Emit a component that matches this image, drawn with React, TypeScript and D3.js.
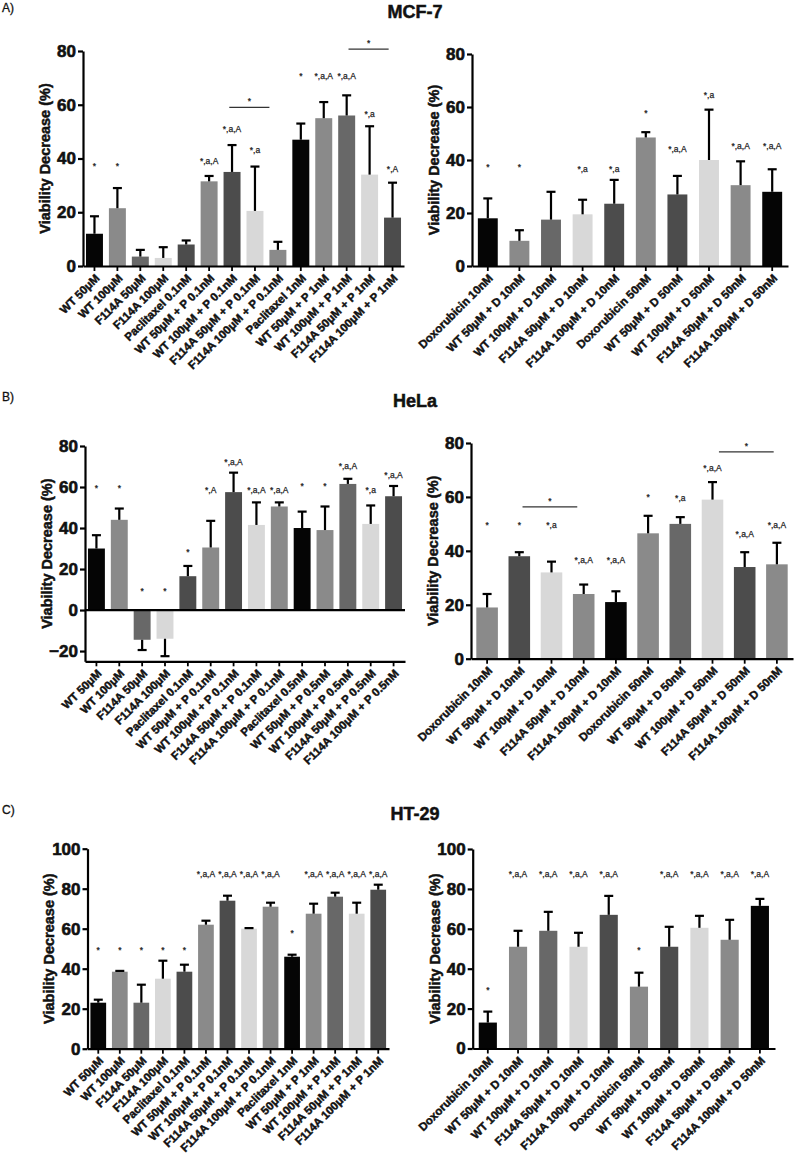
import { useRef, useEffect, useMemo } from 'react';
import * as d3 from 'd3';

const FONT = '"Liberation Sans", Arial, sans-serif';

// ---------- categories ----------
const pacCats1nM = [
  'WT 50μM', 'WT 100μM', 'F114A 50μM', 'F114A 100μM', 'Paclitaxel 0.1nM',
  'WT 50μM + P 0.1nM', 'WT 100μM + P 0.1nM', 'F114A 50μM + P 0.1nM', 'F114A 100μM + P 0.1nM',
  'Paclitaxel 1nM', 'WT 50μM + P 1nM', 'WT 100μM + P 1nM', 'F114A 50μM + P 1nM', 'F114A 100μM + P 1nM',
];
const pacCats05nM = [
  'WT 50μM', 'WT 100μM', 'F114A 50μM', 'F114A 100μM', 'Paclitaxel 0.1nM',
  'WT 50μM + P 0.1nM', 'WT 100μM + P 0.1nM', 'F114A 50μM + P 0.1nM', 'F114A 100μM + P 0.1nM',
  'Paclitaxel 0.5nM', 'WT 50μM + P 0.5nM', 'WT 100μM + P 0.5nM', 'F114A 50μM + P 0.5nM', 'F114A 100μM + P 0.5nM',
];
const doxCats = [
  'Doxorubicin 10nM', 'WT 50μM + D 10nM', 'WT 100μM + D 10nM', 'F114A 50μM + D 10nM', 'F114A 100μM + D 10nM',
  'Doxorubicin 50nM', 'WT 50μM + D 50nM', 'WT 100μM + D 50nM', 'F114A 50μM + D 50nM', 'F114A 100μM + D 50nM',
];

// ---------- MCF-7 ----------
const mcfPacMean = [12, 21.5, 3.5, 3, 8, 31.5, 35, 20.5, 6, 47, 55, 56, 34, 18];
const mcfPacErr = [6.5, 7.5, 2.5, 4, 1.5, 2, 10, 16.5, 3, 6, 6, 7.5, 18, 13];
const mcfPacSig = ['*', '*', '', '', '', '*,a,A', '*,a,A', '*,a', '', '*', '*,a,A', '*,a,A', '*,a', '*,A'];
const mcfPacSigAt = [36, 36, 0, 0, 0, 38, 50, 42, 0, 69.5, 69.5, 69.5, 55.3, 35];
const mcfPacBrackets: [number, number, number][] = [[5.88, 7.63, 59], [11.08, 12.83, 80.7]];

const mcfDoxMean = [18, 9.5, 17.5, 19.5, 23.5, 48.5, 27, 40, 30.5, 28];
const mcfDoxErr = [7.5, 4, 10.5, 5.5, 9, 2, 7, 19, 9, 8.5];
const mcfDoxSig = ['*', '*', '', '*,a', '*,a', '*', '*,a,A', '*,a', '*,a,A', '*,a,A'];
const mcfDoxSigAt = [36.4, 36.4, 0, 35.6, 35.6, 56.6, 43.1, 63.3, 44, 44];

// ---------- HeLa ----------
const helaPacMean = [30, 44, -14.5, -14, 16.5, 30.5, 57.5, 41.5, 50.5, 40, 39, 61.5, 42, 55.5];
const helaPacErr = [6.5, 5.5, 5, 8.5, 5, 13, 9.5, 11, 2, 8, 11.5, 2.5, 9, 5];
const helaPacSig = ['*', '*', '*', '*', '*', '*,A', '*,a,A', '*,a,A', '*,a,A', '*', '*', '*,a,A', '*,a', '*,a,A'];
const helaPacSigAt = [58, 58, 8, 8, 27, 57, 70.7, 57, 57, 59, 59, 68.6, 57, 64.2];

const helaDoxMean = [19, 38, 32, 24, 21, 46.5, 50, 59, 34, 35];
const helaDoxErr = [5, 1.5, 4, 3.5, 4, 6.5, 2.5, 6.5, 5.5, 8];
const helaDoxSig = ['*', '*', '*,a', '*,a,A', '*,a,A', '*', '*,a', '*,a,A', '*,a,A', '*,a,A'];
const helaDoxSigAt = [48.5, 48.5, 48.4, 35.4, 35.4, 59, 58.6, 69.7, 45, 48.4];
const helaDoxBrackets: [number, number, number][] = [[1.1, 2.8, 56.3], [7.2, 8.9, 76.7]];

// ---------- HT-29 ----------
const htPacMean = [23, 38.5, 23, 35, 38.5, 62, 74, 60, 71, 46, 67.5, 76, 67.5, 79.5];
const htPacErr = [1.5, 0.4, 9, 9, 3.5, 2, 2.5, 0.3, 2, 1, 5, 2, 5.5, 2.5];
const htPacSig = ['*', '*', '*', '*', '*', '*,a,A', '*,a,A', '*,a,A', '*,a,A', '*', '*,a,A', '*,a,A', '*,a,A', '*,a,A'];
const htPacSigAt = [47.9, 47.9, 47.9, 47.9, 47.9, 86, 86, 86, 86, 56.6, 86, 86, 86, 86];

const htDoxMean = [13, 51, 59, 51, 67, 31, 51, 60.5, 54.5, 71.5];
const htDoxErr = [5.5, 8, 9.5, 7, 9.5, 7, 10, 6, 10, 3.5];
const htDoxSig = ['*', '*,a,A', '*,a,A', '*,a,A', '*,a,A', '*', '*,a,A', '*,a,A', '*,a,A', '*,a,A'];
const htDoxSigAt = [27.6, 86, 86, 86, 86, 47.9, 86, 86, 86, 86];

// ---------- styles ----------
const shade: Record<string, string> = {
  K: '#050505',
  G: '#8a8a8a',
  M: '#686868',
  L: '#d8d8d8',
  D: '#4c4c4c',
};
const pacShades = 'KGMLDGDLGKGMLD'.split('').map((k) => shade[k]);
const doxShadesA = 'KGMLDGDLGK'.split('').map((k) => shade[k]);
const doxShadesB = 'GDLGKGMLDG'.split('').map((k) => shade[k]);

type PanelProps = {
  cats: string[];
  means: number[];
  errs: number[];
  colors: string[];
  sig: string[];
  sigAt: number[];
  brackets?: [number, number, number][];
  x0: number;
  x1: number;
  yTop: number;
  yBottom: number;
  domain: [number, number];
  ticks: number[];
  pad: number;
};

const Panel: React.FC<PanelProps> = (p) => {
  const gx = useRef<SVGGElement>(null);
  const gy = useRef<SVGGElement>(null);

  const x = useMemo(
    () => d3.scaleBand().domain(p.cats).range([p.x0, p.x1]).paddingInner(p.pad).paddingOuter(p.pad / 2),
    [p.cats, p.x0, p.x1, p.pad],
  );
  const y = useMemo(
    () => d3.scaleLinear().domain(p.domain).range([p.yBottom, p.yTop]),
    [p.domain, p.yBottom, p.yTop],
  );
  const baseY = y(p.domain[0]);
  const bw = x.bandwidth();
  const centerAt = (i: number) => (x(p.cats[0]) ?? 0) + bw / 2 + i * x.step();

  useEffect(() => {
    const el = gy.current;
    if (!el) return;
    const g = d3.select(el);
    g.call(d3.axisLeft(y).tickValues(p.ticks).tickSize(5).tickSizeOuter(0).tickPadding(2));
    g.select('.domain').attr('stroke-width', 2.2);
    g.selectAll('.tick line').attr('stroke-width', 2.2);
    g.selectAll('.tick text')
      .attr('font-family', FONT)
      .attr('font-weight', 'bold')
      .attr('font-size', 17)
      .attr('fill', '#111')
      .attr('stroke', '#111')
      .attr('stroke-width', 0.6);
    return () => {
      g.selectAll('*').remove();
    };
  }, [y, p.ticks]);

  useEffect(() => {
    const el = gx.current;
    if (!el) return;
    const g = d3.select(el);
    g.call(d3.axisBottom(x).tickSize(5).tickSizeOuter(0));
    g.select('.domain').attr('stroke-width', 2.2);
    g.selectAll('.tick line').attr('stroke-width', 1.8);
    g.selectAll('.tick text')
      .attr('font-family', FONT)
      .attr('font-weight', 'bold')
      .attr('font-size', 11.5)
      .attr('fill', '#111')
      .attr('stroke', '#111')
      .attr('stroke-width', 0.45)
      .attr('y', 0)
      .attr('dy', '0.35em')
      .attr('text-anchor', 'end')
      .attr('transform', 'translate(3,10) rotate(-45)');
    return () => {
      g.selectAll('*').remove();
    };
  }, [x]);

  const axisX = p.x0;
  const midY = (p.yTop + p.yBottom) / 2;

  return (
    <g>
      {p.cats.map((c, i) => {
        const v = p.means[i];
        const y0 = y(0);
        const yv = y(v);
        return (
          <rect
            key={c}
            x={x(c)}
            y={Math.min(y0, yv)}
            width={bw}
            height={Math.abs(yv - y0)}
            fill={p.colors[i]}
          />
        );
      })}
      {p.cats.map((c, i) => {
        const v = p.means[i];
        const end = v >= 0 ? v + p.errs[i] : v - p.errs[i];
        const cx = (x(c) ?? 0) + bw / 2;
        return (
          <g key={c} stroke="#000" strokeWidth={2.2}>
            <line x1={cx} x2={cx} y1={y(v)} y2={y(end)} />
            <line x1={cx - 4.5} x2={cx + 4.5} y1={y(end)} y2={y(end)} />
          </g>
        );
      })}
      {p.cats.map((c, i) =>
        p.sig[i] ? (
          <text
            key={c}
            x={(x(c) ?? 0) + bw / 2}
            y={y(p.sigAt[i])}
            textAnchor="middle"
            fontFamily={FONT}
            fontSize={8.5}
            fill="#222"
            stroke="#222"
            strokeWidth={0.25}
          >
            {p.sig[i]}
          </text>
        ) : null,
      )}
      {(p.brackets ?? []).map(([a, b, v], i) => (
        <g key={i}>
          <line x1={centerAt(a)} x2={centerAt(b)} y1={y(v)} y2={y(v)} stroke="#333" strokeWidth={1.2} />
          <text
            x={(centerAt(a) + centerAt(b)) / 2}
            y={y(v) - 3}
            textAnchor="middle"
            fontFamily={FONT}
            fontSize={8.5}
            fill="#222"
            stroke="#222"
            strokeWidth={0.25}
          >
            *
          </text>
        </g>
      ))}
      {p.domain[0] < 0 && (
        <line x1={p.x0} x2={p.x1} y1={y(0)} y2={y(0)} stroke="#000" strokeWidth={2.2} />
      )}
      <g ref={gy} transform={`translate(${axisX},0)`} />
      <g ref={gx} transform={`translate(0,${baseY})`} />
      <text
        transform={`translate(${axisX - 37},${midY}) rotate(-90)`}
        textAnchor="middle"
        dominantBaseline="middle"
        fontFamily={FONT}
        fontWeight="bold"
        fontSize={14.5}
        fill="#111"
        stroke="#111"
        strokeWidth={0.5}
      >
        Viability Decrease (%)
      </text>
    </g>
  );
};

const Heading: React.FC<{ letter: string; title: string; y: number }> = ({ letter, title, y }) => (
  <g fontFamily={FONT}>
    <text x={2} y={y - 6} fontSize={12} fill="#111" stroke="#111" strokeWidth={0.3}>
      {letter}
    </text>
    <text x={415} y={y} textAnchor="middle" fontSize={18} fontWeight="bold" fill="#111" stroke="#111" strokeWidth={0.5}>
      {title}
    </text>
  </g>
);

export default function App() {
  return (
    <svg
      width={800}
      height={1153}
      style={{ position: 'absolute', left: 0, top: 0, background: '#fff' }}
    >
      <rect width={800} height={1153} fill="#fff" />
      <Heading letter="A)" title="MCF-7" y={18} />
      <Panel
        cats={pacCats1nM}
        means={mcfPacMean}
        errs={mcfPacErr}
        colors={pacShades}
        sig={mcfPacSig}
        sigAt={mcfPacSigAt}
        brackets={mcfPacBrackets}
        x0={83}
        x1={404}
        yTop={51}
        yBottom={266}
        domain={[0, 80]}
        ticks={[0, 20, 40, 60, 80]}
        pad={0.26}
      />
      <Panel
        cats={doxCats}
        means={mcfDoxMean}
        errs={mcfDoxErr}
        colors={doxShadesA}
        sig={mcfDoxSig}
        sigAt={mcfDoxSigAt}
        x0={472}
        x1={788}
        yTop={54}
        yBottom={266}
        domain={[0, 80]}
        ticks={[0, 20, 40, 60, 80]}
        pad={0.37}
      />

      <Heading letter="B)" title="HeLa" y={407} />
      <Panel
        cats={pacCats05nM}
        means={helaPacMean}
        errs={helaPacErr}
        colors={pacShades}
        sig={helaPacSig}
        sigAt={helaPacSigAt}
        x0={85}
        x1={405}
        yTop={446}
        yBottom={661.3}
        domain={[-25, 80]}
        ticks={[-20, 0, 20, 40, 60, 80]}
        pad={0.26}
      />
      <Panel
        cats={doxCats}
        means={helaDoxMean}
        errs={helaDoxErr}
        colors={doxShadesB}
        sig={helaDoxSig}
        sigAt={helaDoxSigAt}
        brackets={helaDoxBrackets}
        x0={471}
        x1={793}
        yTop={443}
        yBottom={658.7}
        domain={[0, 80]}
        ticks={[0, 20, 40, 60, 80]}
        pad={0.33}
      />

      <Heading letter="C)" title="HT-29" y={820} />
      <Panel
        cats={pacCats1nM}
        means={htPacMean}
        errs={htPacErr}
        colors={pacShades}
        sig={htPacSig}
        sigAt={htPacSigAt}
        x0={87.5}
        x1={389}
        yTop={848.7}
        yBottom={1048.7}
        domain={[0, 100]}
        ticks={[0, 20, 40, 60, 80, 100]}
        pad={0.27}
      />
      <Panel
        cats={doxCats}
        means={htDoxMean}
        errs={htDoxErr}
        colors={doxShadesA}
        sig={htDoxSig}
        sigAt={htDoxSigAt}
        x0={472.7}
        x1={775}
        yTop={849}
        yBottom={1048.5}
        domain={[0, 100]}
        ticks={[0, 20, 40, 60, 80, 100]}
        pad={0.4}
      />
    </svg>
  );
}
